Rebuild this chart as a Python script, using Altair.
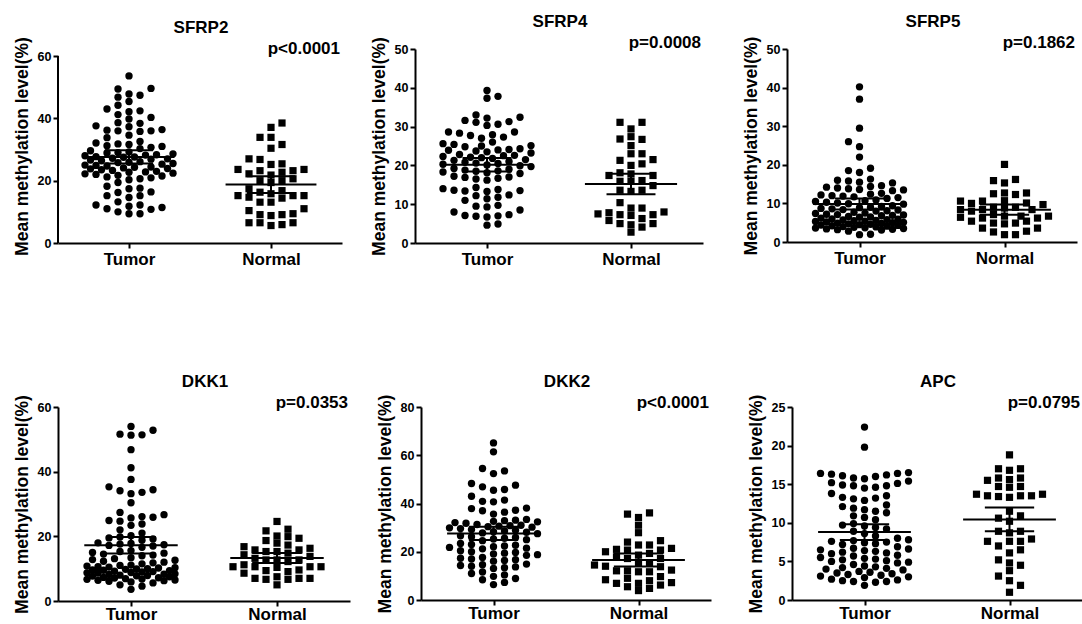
import altair as alt
import pandas as pd

# ---- data: mean methylation level (%) per sample ----
GROUPS = ["Tumor", "Normal"]
GENES = ["SFRP2", "SFRP4", "SFRP5", "DKK1", "DKK2", "APC"]
P_LABELS = ["p<0.0001", "p=0.0008", "p=0.1862", "p=0.0353", "p<0.0001", "p=0.0795"]
Y_MAX = [60, 50, 50, 60, 80, 25]
Y_STEP = [20, 10, 10, 20, 20, 5]

SFRP2_TUMOR = [53.6, 49.6, 49.4, 47.8, 47.4, 46.8, 45.4, 44.2, 43.0, 42.4, 42.1, 41.2,
               40.3, 39.8, 38.6, 38.4, 37.6, 37.3, 36.4, 36.2, 36.0, 36.0, 35.8, 34.6,
               33.8, 32.6, 32.1, 31.8, 31.6, 31.2, 31.0, 30.7, 30.3, 29.6, 29.2, 29.0,
               28.9, 28.6, 28.3, 28.2, 28.0, 27.7, 27.6, 27.5, 27.2, 27.0, 26.9, 26.6,
               26.4, 26.1, 25.9, 25.8, 25.5, 25.3, 25.0, 24.9, 24.7, 24.4, 24.3, 24.1,
               23.9, 23.8, 23.5, 23.3, 23.0, 22.8, 22.7, 22.4, 22.2, 22.0, 21.7, 21.5,
               21.2, 20.9, 20.6, 20.3, 19.4, 18.2, 17.6, 17.4, 16.4, 16.2, 15.2, 15.2,
               14.6, 13.2, 12.2, 12.2, 11.8, 11.4, 11.0, 10.8, 10.0, 9.4, 9.4]
SFRP2_NORMAL = [38.5, 37.1, 33.9, 33.9, 31.6, 30.4, 27.0, 26.8, 25.4, 25.2, 23.6, 23.6,
                23.2, 23.2, 22.7, 22.2, 21.8, 20.6, 20.0, 20.0, 19.4, 17.4, 16.8, 16.3,
                15.8, 15.2, 15.2, 15.2, 14.7, 14.4, 13.1, 13.1, 11.0, 10.4, 9.4, 9.1,
                9.1, 8.8, 6.5, 6.5, 6.5, 5.9, 5.6]

SFRP4_TUMOR = [39.3, 37.8, 37.3, 33.0, 32.4, 32.2, 31.6, 31.3, 31.1, 30.6, 30.3, 28.6,
               28.6, 28.3, 27.9, 27.7, 27.3, 27.0, 26.0, 25.6, 25.4, 25.1, 25.0, 24.8,
               24.3, 24.1, 24.0, 23.9, 23.7, 23.5, 23.2, 22.8, 22.6, 22.5, 22.3, 22.1,
               22.0, 21.8, 21.5, 21.3, 21.0, 20.8, 20.6, 20.5, 20.3, 20.1, 19.9, 19.7,
               19.2, 19.0, 18.8, 18.6, 18.5, 18.3, 18.1, 17.9, 17.2, 17.0, 16.9, 16.7,
               16.5, 16.2, 14.3, 14.0, 13.8, 13.6, 13.5, 13.4, 13.3, 12.4, 12.2, 11.8,
               11.4, 11.0, 9.7, 9.5, 9.3, 8.5, 8.0, 7.3, 7.1, 7.0, 6.9, 6.7, 4.9, 4.6]
SFRP4_NORMAL = [31.1, 31.1, 29.4, 27.4, 26.8, 26.7, 25.1, 23.0, 23.0, 21.5, 21.3, 20.4,
                20.0, 18.1, 17.8, 17.4, 17.4, 16.1, 15.9, 15.9, 14.8, 13.6, 13.6, 13.3,
                10.4, 9.0, 9.0, 8.0, 7.8, 7.5, 7.3, 7.3, 7.1, 6.3, 5.8, 5.0, 5.0, 4.7,
                4.1, 2.8]

SFRP5_TUMOR = [40.2, 37.0, 29.5, 26.0, 24.7, 22.0, 19.1, 18.5, 18.0, 16.3, 16.0, 15.8,
               15.5, 15.3, 14.6, 14.4, 14.2, 14.0, 13.8, 13.6, 13.5, 13.3, 12.6, 12.4,
               12.2, 12.0, 11.9, 11.7, 11.5, 11.3, 10.9, 10.7, 10.5, 10.3, 10.1, 9.9,
               9.8, 9.4, 9.2, 9.0, 8.9, 8.7, 8.6, 8.4, 8.3, 8.1, 8.0, 7.7, 7.5, 7.4,
               7.2, 7.1, 7.0, 6.9, 6.8, 6.6, 6.5, 6.4, 6.2, 6.0, 5.9, 5.8, 5.7, 5.6,
               5.5, 5.4, 5.3, 5.2, 5.1, 5.0, 4.9, 4.8, 4.7, 4.6, 4.5, 4.4, 4.3, 4.2,
               4.1, 4.0, 3.9, 3.8, 3.7, 3.6, 3.5, 3.4, 3.3, 3.2, 3.1, 2.8, 2.0, 1.9]
SFRP5_NORMAL = [20.1, 16.2, 15.9, 15.3, 12.7, 12.7, 12.5, 12.3, 10.7, 10.6, 10.6, 10.1,
                10.0, 9.7, 9.0, 9.0, 8.8, 8.4, 8.4, 8.4, 8.0, 7.1, 6.7, 6.7, 6.7, 6.4,
                6.2, 6.2, 5.4, 5.4, 4.9, 4.9, 4.7, 3.6, 3.6, 2.8, 2.6, 1.9, 1.9]

DKK1_TUMOR = [54.0, 52.8, 51.6, 51.4, 51.3, 46.8, 41.2, 37.6, 35.3, 34.4, 34.1, 33.6,
              33.2, 30.4, 27.4, 26.7, 26.1, 25.9, 25.7, 24.9, 24.7, 23.8, 23.4, 22.0,
              21.0, 20.2, 19.8, 19.5, 19.2, 18.8, 18.0, 17.8, 17.6, 17.4, 17.2, 17.0,
              16.6, 15.6, 15.3, 15.0, 14.8, 14.5, 14.2, 14.0, 13.4, 13.1, 12.8, 12.6,
              12.3, 12.0, 11.8, 11.5, 11.1, 11.0, 10.8, 10.6, 10.5, 10.3, 10.2, 10.0,
              9.9, 9.8, 9.6, 9.5, 9.4, 9.2, 9.1, 9.0, 8.8, 8.7, 8.6, 8.4, 8.3, 8.2,
              8.0, 7.9, 7.8, 7.7, 7.5, 7.3, 7.2, 7.1, 6.9, 6.8, 6.7, 6.5, 6.4, 6.3,
              6.1, 5.9, 5.6, 5.0, 4.6, 3.6]
DKK1_NORMAL = [24.6, 22.2, 21.7, 20.1, 19.9, 19.4, 18.7, 17.9, 17.3, 16.8, 16.3, 15.8,
               15.8, 15.3, 15.3, 14.8, 14.3, 13.8, 13.2, 12.7, 12.7, 12.7, 12.2, 11.2,
               10.6, 10.6, 10.6, 10.6, 10.4, 9.6, 9.4, 9.1, 8.6, 7.5, 7.0, 7.0, 7.0,
               6.7, 6.7, 5.0]

DKK2_TUMOR = [65.1, 61.4, 54.5, 53.5, 52.4, 48.3, 47.6, 46.9, 45.8, 45.5, 43.0, 41.4,
              40.9, 40.7, 38.1, 37.9, 37.2, 37.0, 36.4, 35.6, 33.4, 33.1, 32.9, 32.6,
              32.4, 32.1, 31.8, 31.3, 31.0, 30.8, 30.6, 30.4, 30.2, 29.9, 29.6, 29.2,
              28.9, 28.6, 28.3, 28.1, 27.8, 27.5, 26.6, 26.2, 25.9, 25.6, 25.3, 25.0,
              24.6, 23.4, 23.0, 22.7, 22.4, 22.1, 21.8, 21.5, 21.2, 20.4, 20.0, 19.7,
              19.4, 19.1, 18.8, 18.5, 17.6, 17.3, 17.0, 16.7, 16.4, 16.1, 14.9, 14.6,
              14.3, 14.0, 13.7, 13.4, 13.1, 11.6, 11.0, 10.4, 9.8, 8.9, 8.4, 7.3, 6.4]
DKK2_NORMAL = [36.1, 35.6, 34.2, 31.0, 27.9, 24.6, 24.0, 22.8, 22.8, 21.4, 21.0, 20.7,
               20.7, 20.0, 19.3, 18.6, 17.9, 17.2, 17.2, 14.0, 15.2, 15.2, 14.5, 13.8,
               12.4, 12.1, 12.1, 11.7, 11.7, 8.4, 9.7, 9.0, 8.0, 7.2, 6.9, 6.9, 6.2,
               5.5, 4.8, 3.9]

APC_TUMOR = [22.4, 19.8, 16.5, 16.4, 16.4, 16.3, 16.2, 16.1, 16.0, 15.8, 15.7, 15.4,
             15.2, 15.1, 14.9, 14.8, 14.8, 14.6, 14.5, 13.8, 13.5, 13.3, 13.2, 13.1,
             12.9, 12.3, 12.1, 11.9, 11.7, 11.5, 11.3, 10.9, 10.7, 10.4, 9.9, 9.7,
             9.6, 9.4, 9.2, 8.9, 8.6, 8.3, 8.0, 7.8, 7.7, 7.6, 7.5, 7.4, 7.3, 7.2,
             6.9, 6.7, 6.6, 6.5, 6.4, 6.3, 6.2, 6.1, 6.0, 5.8, 5.7, 5.5, 5.4, 5.3,
             5.2, 5.1, 5.0, 4.9, 4.8, 4.6, 4.4, 4.3, 4.2, 4.1, 4.0, 3.9, 3.7, 3.6,
             3.5, 3.4, 3.3, 3.2, 3.1, 3.0, 2.9, 2.7, 2.6, 2.5, 2.4, 2.4, 2.3, 1.9]
APC_NORMAL = [18.8, 17.0, 16.8, 17.0, 15.8, 15.5, 15.6, 15.8, 14.7, 14.6, 14.7, 13.7,
              13.5, 13.4, 13.3, 13.5, 13.5, 13.7, 11.5, 10.6, 10.2, 10.9, 8.9, 8.9,
              8.7, 7.6, 7.6, 7.9, 7.6, 6.5, 6.1, 7.0, 5.2, 4.5, 4.8, 3.8, 3.1, 2.5,
              1.9, 1.0]

SERIES = [
    (SFRP2_TUMOR, SFRP2_NORMAL), (SFRP4_TUMOR, SFRP4_NORMAL), (SFRP5_TUMOR, SFRP5_NORMAL),
    (DKK1_TUMOR, DKK1_NORMAL), (DKK2_TUMOR, DKK2_NORMAL), (APC_TUMOR, APC_NORMAL),
]

FONT = "Liberation Sans"
Y_TITLE = "Mean methylation level(%)"


def swarm_offsets(values, px_per_unit, px_per_x, step_px=5.5, gap_x=10.5, gap_y=7.0, max_slot=8):
    """Column scatter: each point (lowest first) takes the slot nearest the
    column centre that keeps gap_x / gap_y clear of the points already placed.
    The column is at most +-max_slot slots wide; when it is full the point goes
    to the slot that is least crowded."""
    order = sorted(range(len(values)), key=lambda i: values[i])
    placed, offs, flip = [], [0.0] * len(values), 1
    cand = [0]
    for k in range(1, max_slot + 1):
        cand += [k, -k]
    for i in order:
        y = values[i] * px_per_unit
        near = [(px, py) for px, py in placed if y - py < gap_y]
        chosen = None
        for c in cand:
            x = c * flip * step_px
            if all(abs(x - px) >= gap_x or abs(y - py) >= gap_y for px, py in near):
                chosen = x
                break
        if chosen is None:
            best = -1.0
            for c in cand:
                x = c * flip * step_px
                d = min((x - px) ** 2 + (y - py) ** 2 for px, py in near)
                if d > best + 1e-9:
                    best, chosen = d, x
        if chosen != 0:
            flip = -flip
        placed.append((chosen, y))
        offs[i] = chosen / px_per_x
    return offs


def panel(idx, w, h, ytop=None, dy=0, xpad=3):
    """One dot plot.  ytop stretches the y scale above the last tick so the
    plot can start lower than its row neighbours (the axis line is then drawn
    as a rule that stops at the last tick)."""
    gene, plabel, ymax, ystep = GENES[idx], P_LABELS[idx], Y_MAX[idx], Y_STEP[idx]
    tumor, normal = SERIES[idx]
    top = ytop if ytop else ymax
    ppu, ppx = h / top, w / 2.0
    recs = []
    for g, vals in enumerate((tumor, normal)):
        for v, o in zip(vals, swarm_offsets(vals, ppu, ppx)):
            recs.append({"group": GROUPS[g], "g": g, "value": v, "xp": g + o})
    df = pd.DataFrame(recs)

    xs = alt.Scale(domain=[-0.5, 1.5], nice=False, zero=False)
    ys = alt.Scale(domain=[0, top], nice=False)
    xaxis = alt.Axis(values=[0, 1], labelExpr="datum.value == 0 ? 'Tumor' : 'Normal'",
                     title=None, grid=False, labelPadding=xpad)
    yaxis = alt.Axis(values=list(range(0, ymax + 1, ystep)), title=Y_TITLE, grid=False,
                     domain=not ytop)

    base = alt.Chart(df)
    pts = base.mark_point(filled=True, opacity=1, color="black").encode(
        x=alt.X("xp:Q", scale=xs, axis=xaxis),
        y=alt.Y("value:Q", scale=ys, axis=yaxis),
        shape=alt.Shape("group:N", scale=alt.Scale(domain=GROUPS, range=["circle", "square"]), legend=None),
        size=alt.Size("group:N", scale=alt.Scale(domain=GROUPS, range=[54, 52]), legend=None),
    )
    stats = base.transform_aggregate(
        m="mean(value)", se="stderr(value)", groupby=["g"]
    ).transform_calculate(
        lo="datum.m - 2 * datum.se", hi="datum.m + 2 * datum.se",
        ml="datum.g - 0.32", mr="datum.g + 0.32",
        cl="datum.g - 0.17", cr="datum.g + 0.17",
    )
    mean_rule = stats.mark_rule(color="black", strokeWidth=2).encode(
        x=alt.X("ml:Q", scale=xs, axis=xaxis), x2="mr:Q",
        y=alt.Y("m:Q", scale=ys, axis=yaxis))
    ci_rule = stats.mark_rule(color="black", strokeWidth=2).encode(
        x=alt.X("g:Q", scale=xs, axis=xaxis),
        y=alt.Y("lo:Q", scale=ys, axis=yaxis), y2="hi:Q")
    cap_lo = stats.mark_rule(color="black", strokeWidth=2).encode(
        x=alt.X("cl:Q", scale=xs, axis=xaxis), x2="cr:Q",
        y=alt.Y("lo:Q", scale=ys, axis=yaxis))
    cap_hi = stats.mark_rule(color="black", strokeWidth=2).encode(
        x=alt.X("cl:Q", scale=xs, axis=xaxis), x2="cr:Q",
        y=alt.Y("hi:Q", scale=ys, axis=yaxis))

    title = alt.Chart(pd.DataFrame({"t": [gene]})).mark_text(
        font=FONT, fontWeight="bold", fontSize=17, align="center", baseline="middle", color="black"
    ).encode(text="t:N", x=alt.value(w / 2 + 1), y=alt.value(-28 + dy))
    ptxt = alt.Chart(pd.DataFrame({"t": [plabel]})).mark_text(
        font=FONT, fontWeight="bold", fontSize=17, align="right", baseline="middle", color="black"
    ).encode(text="t:N", x=alt.value(w - 2), y=alt.value(-7 + dy))

    layers = [pts, mean_rule, ci_rule, cap_lo, cap_hi, title, ptxt]
    if ytop:
        axis_line = alt.Chart(pd.DataFrame({"a": [0], "b": [ymax]})).mark_rule(
            color="black", strokeWidth=2
        ).encode(x=alt.value(0), y=alt.Y("a:Q", scale=ys, axis=yaxis), y2="b:Q")
        layers.append(axis_line)
    return alt.layer(*layers).properties(width=w, height=h)


def spacer(w, h=1):
    return alt.Chart(pd.DataFrame({"z": [0]})).mark_point(opacity=0).encode(
        x=alt.value(0), y=alt.value(0)).properties(width=w, height=h)


row1 = alt.hconcat(panel(0, 284, 194, ytop=60 * 194 / 187, dy=7), spacer(73),
                   panel(1, 288, 194, dy=1), spacer(84), panel(2, 290, 193, dy=1),
                   spacing=0, bounds="flush")
row2 = alt.hconcat(panel(3, 292, 194, dy=3, xpad=0), spacer(71),
                   panel(4, 290, 193, dy=3, xpad=0), spacer(81),
                   panel(5, 290, 193, dy=3, xpad=0), spacing=0, bounds="flush")

chart = alt.vconcat(row1, row2, spacing=106).properties(
    padding={"left": 13, "top": 13, "right": 0, "bottom": 0}, background="white"
).configure_view(stroke=None).configure_axis(
    domainColor="black", domainWidth=2, tickColor="black", tickWidth=2, tickSize=5,
    labelFont=FONT, labelFontWeight="bold", labelColor="black",
    titleFont=FONT, titleFontWeight="bold", titleColor="black", titleFontSize=17.5,
).configure_axisX(labelFontSize=17).configure_axisY(
    labelFontSize=12.5, labelPadding=2, titlePadding=6)

chart.save("out.html", embed_options={"renderer": "svg", "actions": False})
